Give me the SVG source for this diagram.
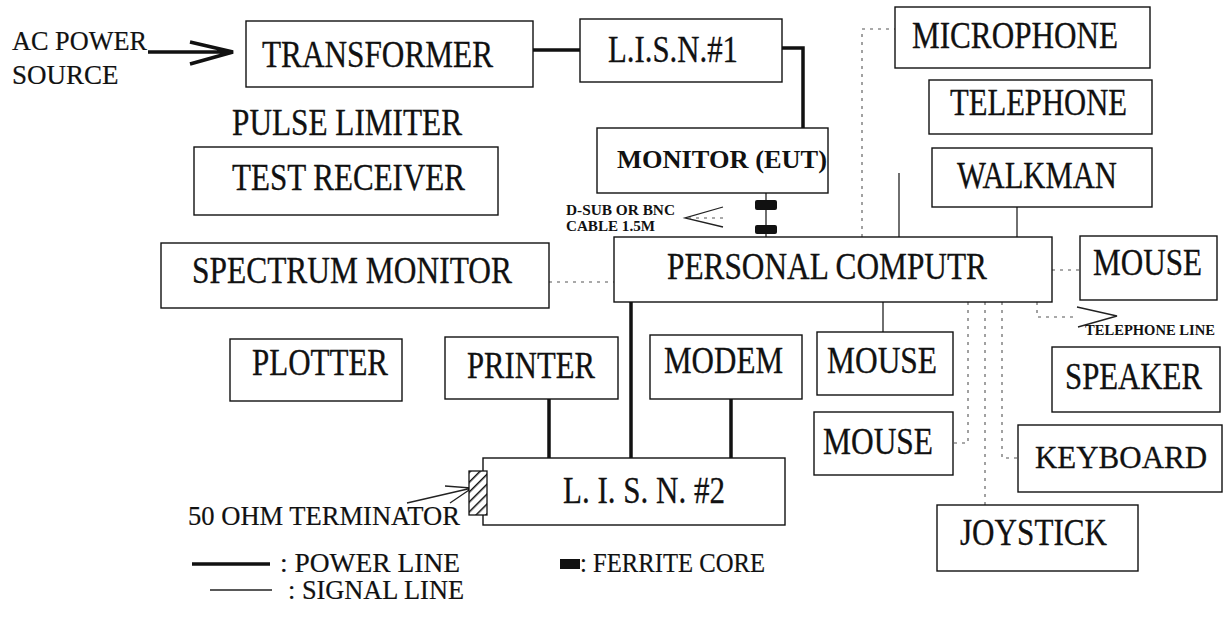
<svg xmlns="http://www.w3.org/2000/svg" width="1228" height="636" viewBox="0 0 1228 636">
<defs>
<style>
.box{fill:#fff;stroke:#111;stroke-width:1.4}
.lbl{font-family:"Liberation Serif","Times New Roman",serif;font-size:37px;fill:#111;stroke:#111;stroke-width:0.3}
.sm{font-family:"Liberation Serif","Times New Roman",serif;font-size:27px;fill:#111;stroke:#111;stroke-width:0.2}
.tiny{font-family:"Liberation Serif","Times New Roman",serif;font-size:14px;font-weight:bold;fill:#111}
.pw{stroke:#111;stroke-width:3.5;fill:none}
.sg{stroke:#222;stroke-width:1.3;fill:none}
.dt{stroke:#555;stroke-width:1.1;fill:none;stroke-dasharray:3 5}
.fc{fill:#111}
</style>
<pattern id="hatch" patternUnits="userSpaceOnUse" width="7" height="7" patternTransform="rotate(45)">
<rect width="7" height="7" fill="#fff"/>
<line x1="0" y1="0" x2="0" y2="7" stroke="#111" stroke-width="3"/>
</pattern>
</defs>
<rect width="1228" height="636" fill="#fff"/>

<g id="connectors">
<path class="pw" d="M148,52 H232 M190,42 L233,52 L190,64" stroke-width="3"/>
<path class="pw" d="M533,50 H580"/>
<path class="pw" d="M782,48 H803 V128"/>
<path class="pw" d="M631,302 V458"/>
<path class="pw" d="M549,399 V458"/>
<path class="pw" d="M731,399 V458"/>
<path class="sg" d="M766,193 V237"/>
<path class="sg" d="M723,207 L685,218 L723,227"/>
<path class="dt" d="M688,218 H725" stroke-dasharray="4 3"/>
<path class="dt" d="M549,282 H614"/>
<path class="dt" d="M862,237 V29 H895"/>
<path class="sg" d="M899,173 V237"/>
<path class="sg" d="M1017,207 V237"/>
<path class="dt" d="M1052,270 H1080"/>
<path class="dt" d="M1037,302 V317 H1077"/>
<path class="sg" d="M1077,307 L1117,316 L1078,327" stroke-width="1.6"/>
<path class="sg" d="M883,302 V332"/>
<path class="dt" d="M968,302 V443 H953"/>
<path class="dt" d="M985,302 V505"/>
<path class="dt" d="M1002,302 V458 H1018"/>
<path class="sg" d="M407,503 L472,488 M445,486 L472,488 L450,503"/>
</g>

<g id="ac-power">
<text class="sm" x="12" y="50" textLength="135" lengthAdjust="spacingAndGlyphs">AC POWER</text>
<text class="sm" x="12" y="84">SOURCE</text>
</g>
<g id="transformer">
<rect class="box" x="246" y="21" width="287" height="66"/>
<text class="lbl" x="262" y="67" textLength="231" lengthAdjust="spacingAndGlyphs">TRANSFORMER</text>
</g>
<g id="lisn1">
<rect class="box" x="580" y="19" width="202" height="63"/>
<text class="lbl" x="608" y="62" textLength="130" lengthAdjust="spacingAndGlyphs">L.I.S.N.#1</text>
</g>
<g id="pulse-limiter">
<text class="lbl" x="232" y="135" textLength="230" lengthAdjust="spacingAndGlyphs">PULSE LIMITER</text>
</g>
<g id="test-receiver">
<rect class="box" x="194" y="147" width="304" height="68"/>
<text class="lbl" x="232" y="190" textLength="233" lengthAdjust="spacingAndGlyphs">TEST RECEIVER</text>
</g>
<g id="spectrum-monitor">
<rect class="box" x="161" y="243" width="388" height="65"/>
<text class="lbl" x="192" y="283" textLength="320" lengthAdjust="spacingAndGlyphs">SPECTRUM MONITOR</text>
</g>
<g id="monitor">
<rect class="box" x="597" y="128" width="231" height="65"/>
<text x="617" y="168" font-family="Liberation Serif, serif" font-size="25" font-weight="bold" fill="#111" textLength="210" lengthAdjust="spacingAndGlyphs">MONITOR (EUT)</text>
</g>
<g id="ferrite-cores">
<rect class="fc" x="755" y="200" width="22" height="10" rx="2"/>
<rect class="fc" x="755" y="225" width="22" height="9" rx="2"/>
</g>
<g id="cable-label">
<text class="tiny" x="566" y="215" textLength="109" lengthAdjust="spacingAndGlyphs">D-SUB OR BNC</text>
<text class="tiny" x="566" y="231" textLength="89" lengthAdjust="spacingAndGlyphs">CABLE 1.5M</text>
</g>
<g id="pc">
<rect class="box" x="614" y="237" width="438" height="65"/>
<text class="lbl" x="667" y="279" textLength="320" lengthAdjust="spacingAndGlyphs">PERSONAL COMPUTR</text>
</g>
<g id="microphone">
<rect class="box" x="895" y="7" width="255" height="61"/>
<text class="lbl" x="912" y="48" textLength="206" lengthAdjust="spacingAndGlyphs">MICROPHONE</text>
</g>
<g id="telephone">
<rect class="box" x="929" y="80" width="223" height="54"/>
<text class="lbl" x="950" y="115" textLength="177" lengthAdjust="spacingAndGlyphs">TELEPHONE</text>
</g>
<g id="walkman">
<rect class="box" x="932" y="148" width="220" height="59"/>
<text class="lbl" x="957" y="188" textLength="160" lengthAdjust="spacingAndGlyphs">WALKMAN</text>
</g>
<g id="mouse-right">
<rect class="box" x="1080" y="236" width="137" height="64"/>
<text class="lbl" x="1093" y="275" textLength="109" lengthAdjust="spacingAndGlyphs">MOUSE</text>
</g>
<g id="telephone-line">
<text class="tiny" x="1085" y="335" textLength="130" lengthAdjust="spacingAndGlyphs">TELEPHONE LINE</text>
</g>
<g id="plotter">
<rect class="box" x="230" y="339" width="172" height="62"/>
<text class="lbl" x="252" y="375" textLength="136" lengthAdjust="spacingAndGlyphs">PLOTTER</text>
</g>
<g id="printer">
<rect class="box" x="445" y="337" width="173" height="62"/>
<text class="lbl" x="467" y="378" textLength="128" lengthAdjust="spacingAndGlyphs">PRINTER</text>
</g>
<g id="modem">
<rect class="box" x="650" y="335" width="152" height="64"/>
<text class="lbl" x="664" y="373" textLength="119" lengthAdjust="spacingAndGlyphs">MODEM</text>
</g>
<g id="mouse-mid">
<rect class="box" x="817" y="332" width="136" height="63"/>
<text class="lbl" x="827" y="373" textLength="110" lengthAdjust="spacingAndGlyphs">MOUSE</text>
</g>
<g id="speaker">
<rect class="box" x="1052" y="347" width="168" height="65"/>
<text class="lbl" x="1065" y="389" textLength="137" lengthAdjust="spacingAndGlyphs">SPEAKER</text>
</g>
<g id="mouse-low">
<rect class="box" x="814" y="412" width="139" height="63"/>
<text class="lbl" x="823" y="454" textLength="110" lengthAdjust="spacingAndGlyphs">MOUSE</text>
</g>
<g id="keyboard">
<rect class="box" x="1018" y="425" width="204" height="67"/>
<text class="lbl" x="1035" y="468" font-size="31" textLength="172" lengthAdjust="spacingAndGlyphs" style="font-size:31px">KEYBOARD</text>
</g>
<g id="joystick">
<rect class="box" x="937" y="505" width="201" height="66"/>
<text class="lbl" x="960" y="545" textLength="147" lengthAdjust="spacingAndGlyphs">JOYSTICK</text>
</g>
<g id="lisn2">
<rect class="box" x="483" y="458" width="302" height="67"/>
<text class="lbl" x="563" y="503" textLength="162" lengthAdjust="spacingAndGlyphs">L. I. S. N. #2</text>
</g>
<g id="terminator">
<rect x="469" y="471" width="18" height="44" fill="url(#hatch)" stroke="#111" stroke-width="1.3"/>
<text class="sm" x="188" y="525" textLength="272" lengthAdjust="spacingAndGlyphs">50 OHM TERMINATOR</text>
</g>
<g id="legend">
<line class="pw" x1="192" y1="564" x2="270" y2="564" stroke-width="3"/>
<text class="sm" x="280" y="572" textLength="180" lengthAdjust="spacingAndGlyphs">: POWER LINE</text>
<line class="sg" x1="210" y1="590" x2="272" y2="590"/>
<text class="sm" x="288" y="599" textLength="176" lengthAdjust="spacingAndGlyphs">: SIGNAL LINE</text>
<rect class="fc" x="560" y="559" width="20" height="10"/>
<text class="sm" x="580" y="572" textLength="185" lengthAdjust="spacingAndGlyphs">: FERRITE CORE</text>
</g>
</svg>
